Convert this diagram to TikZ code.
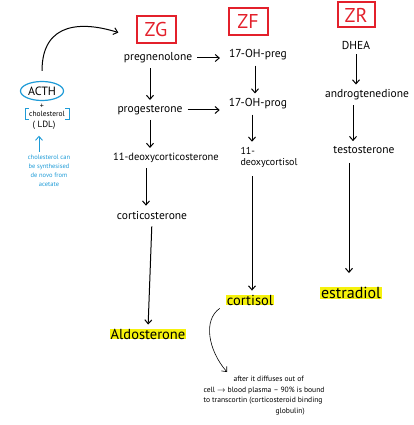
\documentclass[tikz,border=0pt]{standalone}
\usepackage{fontspec}
\setmainfont{PT Sans}
\usetikzlibrary{arrows.meta,shapes.geometric}
\definecolor{penred}{HTML}{E3202B}
\definecolor{penblue}{HTML}{1E9BD7}
\definecolor{marker}{HTML}{F6F20C}

\begin{document}
\begin{tikzpicture}[x=1pt,y=-1pt,>={Straight Barb[length=4pt,width=7pt]},
    zone/.style={draw=penred,line width=2pt,text=penred,minimum width=39pt,minimum height=27pt,inner sep=0pt,font=\fontsize{20}{20}\selectfont},
    hormone/.style={inner sep=1pt,font=\fontsize{11.5}{13}\selectfont},
    final/.style={fill=marker,inner xsep=1pt,inner ysep=0pt,font=\fontsize{14.5}{16}\selectfont},
    flow/.style={->,line width=1pt,shorten <=4pt,shorten >=4pt},
    bluepen/.style={penblue,line width=0.9pt}]
    \useasboundingbox (0,0) rectangle (414,425);

    % zone labels
    \node[zone] (zg) at (156,30) {ZG};
    \node[zone] (zf) at (248,22) {ZF};
    \node[zone,minimum width=37pt,minimum height=25pt] (zr) at (356,15) {ZR};

    % ZG column
    \node[hormone] (preg) at (158,58) {pregnenolone};
    \node[hormone] (prog) at (150,110) {progesterone};
    \node[hormone,font=\fontsize{10.5}{12}\selectfont] (doc) at (166,158) {11-deoxycorticosterone};
    \node[hormone] (cortico) at (152,215) {corticosterone};
    \node[final] (aldo) at (148,334) {Aldosterone};

    % ZF column
    \node[hormone] (ohpreg) at (258,55) {17-OH-preg};
    \node[hormone] (ohprog) at (258,104) {17-OH-prog};
    \node[hormone,align=left,font=\fontsize{10}{11}\selectfont] (deoxycort) at (269,157) {11-\\deoxycortisol};
    \node[final] (cortisol) at (250,300) {cortisol};

    % ZR column
    \node[hormone] (dhea) at (356,45) {DHEA};
    \node[hormone] (andro) at (367,95) {androgtenedione};
    \node[hormone] (testo) at (364,150) {testosterone};
    \node[final,font=\fontsize{16}{18}\selectfont] (estra) at (351,293) {estradiol};

    % pathway arrows
    \draw[flow] (preg.south -| prog.north) -- (prog.north);
    \draw[flow] (prog.south) -- (prog.south |- doc.north);
    \draw[flow] (doc.south -| 146,0) -- (cortico.north -| 146,0);
    \draw[flow,shorten <=6pt] (cortico.south) -- (aldo.north);
    \draw[flow,shorten >=8pt] (preg.east) -- (preg.east -| ohpreg.west);
    \draw[flow,shorten >=8pt] (prog.east) -- (prog.east -| ohprog.west);
    \draw[flow] (ohpreg.south -| 255,0) -- (ohprog.north -| 255,0);
    \draw[flow] (ohprog.south -| 252,0) -- (deoxycort.north -| 252,0);
    \draw[flow,shorten <=8pt] (deoxycort.south -| 252,0) -- (cortisol.north -| 252,0);
    \draw[flow] (dhea.south) -- (dhea.south |- andro.north);
    \draw[flow] (andro.south -| 353,0) -- (testo.north -| 353,0);
    \draw[flow,shorten <=8pt,shorten >=14pt] (testo.south -| 349,0) -- (estra.north -| 349,0);

    % ACTH and cholesterol
    \node[ellipse,draw=penblue,line width=1.2pt,minimum width=43pt,minimum height=19pt,inner sep=0pt,font=\fontsize{12}{12}\selectfont] (acth) at (42,91) {ACTH};
    \node[font=\fontsize{8}{8}\selectfont] (plus) at (42,106) {+};
    \node[inner xsep=4pt,inner ysep=3pt,font=\fontsize{7.5}{8}\selectfont] (chol) at (47,114) {cholesterol};
    \node[font=\fontsize{9}{9}\selectfont] (ldl) at (44,125) {( LDL)};
    \draw[bluepen] ([xshift=4pt]chol.north west) -- (chol.north west) -- (chol.south west) -- ([xshift=4pt]chol.south west);
    \draw[bluepen] ([xshift=-4pt]chol.north east) -- (chol.north east) -- (chol.south east) -- ([xshift=-4pt]chol.south east);
    \draw[->,line width=1pt,shorten >=18pt,shorten <=10pt] (acth.north) .. controls (42,20) and (85,22) .. ([yshift=-8pt]zg.west);

    % de novo note
    \node[penblue,align=center,font=\fontsize{6.5}{9}\selectfont] (denovo) at (49,171) {cholesterol can\\be synthesised\\de novo from\\acetate};
    \draw[bluepen,->,shorten >=3pt] (denovo.north -| 39,0) -- (ldl.south -| 39,0);

    % transcortin note
    \node[align=left,anchor=north west,font=\fontsize{7.6}{10.5}\selectfont] (note) at (200,373) {\hspace{30pt}after it diffuses out of\\cell $\rightarrow$ blood plasma -- 90\% is bound\\to transcortin (corticosteroid binding\\\hspace{72pt}globulin)};
    \coordinate (notetip) at (227,372);
    \draw[->,line width=0.6pt] ([xshift=-6pt,yshift=-3pt]cortisol.south west) .. controls (203,320) and (208,350) .. (notetip);
\end{tikzpicture}
\end{document}
